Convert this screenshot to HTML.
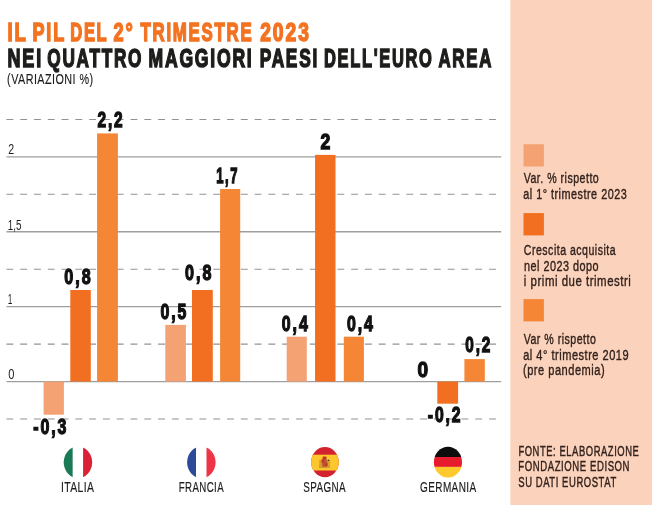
<!DOCTYPE html>
<html><head><meta charset="utf-8"><title>Il PIL del 2° trimestre 2023</title>
<style>
html,body{margin:0;padding:0;background:#fff;}
body{width:652px;height:505px;overflow:hidden;font-family:"Liberation Sans",sans-serif;}
svg{display:block;will-change:transform;}
text{font-family:"Liberation Sans",sans-serif;}
.t1{font-weight:bold;font-size:25.7px;letter-spacing:2.6px;fill:#F37321;stroke:#F37321;stroke-width:1.5px;}
.t2{font-weight:bold;font-size:25.7px;letter-spacing:2.6px;fill:#1d1d1b;stroke:#1d1d1b;stroke-width:1.5px;}
.sub{font-size:14.5px;letter-spacing:.6px;fill:#1d1d1b;stroke:#1d1d1b;stroke-width:.15px;}
.lab{font-weight:bold;font-size:21.2px;letter-spacing:2.6px;fill:#111;stroke:#111;stroke-width:1.3px;}
.ax{font-size:15px;fill:#1d1d1b;}
.ct{font-size:15.2px;letter-spacing:.6px;fill:#1d1d1b;stroke:#1d1d1b;stroke-width:.2px;}
.lg{font-size:15.2px;letter-spacing:.7px;fill:#33221c;stroke:#33221c;stroke-width:.4px;}
.fn{font-size:14.9px;letter-spacing:.9px;fill:#33221c;stroke:#33221c;stroke-width:.45px;}
</style></head><body>
<svg width="652" height="505" viewBox="0 0 652 505">
<rect x="0" y="0" width="652" height="505" fill="#fff"/>
<rect x="510.3" y="0" width="142" height="505" fill="#FBD3BD"/>
<line x1="6.4" x2="501" y1="119.4" y2="119.4" stroke="#929292" stroke-width="1.05" stroke-dasharray="6.9 6.89"/>
<line x1="6.5" x2="501.2" y1="156.85" y2="156.85" stroke="#9e9e9e" stroke-width="1.3"/>
<line x1="6.4" x2="501" y1="194.3" y2="194.3" stroke="#929292" stroke-width="1.05" stroke-dasharray="6.9 6.89"/>
<line x1="6.5" x2="501.2" y1="231.75" y2="231.75" stroke="#9e9e9e" stroke-width="1.3"/>
<line x1="6.4" x2="501" y1="269.2" y2="269.2" stroke="#929292" stroke-width="1.05" stroke-dasharray="6.9 6.89"/>
<line x1="6.5" x2="501.2" y1="306.65" y2="306.65" stroke="#9e9e9e" stroke-width="1.3"/>
<line x1="6.4" x2="501" y1="344.1" y2="344.1" stroke="#929292" stroke-width="1.05" stroke-dasharray="6.9 6.89"/>
<line x1="6.5" x2="501.2" y1="381.55" y2="381.55" stroke="#9e9e9e" stroke-width="1.3"/>
<line x1="6.4" x2="501" y1="419.0" y2="419.0" stroke="#929292" stroke-width="1.05" stroke-dasharray="6.9 6.89"/>
<rect x="43.6" y="381.55" width="20.3" height="33.15" fill="#F4A273"/>
<rect x="70.3" y="290" width="20.5" height="91.55" fill="#F26F21"/>
<rect x="97.1" y="133.4" width="20.8" height="248.15" fill="#F58635"/>
<rect x="165.3" y="324.9" width="20.6" height="56.65" fill="#F4A273"/>
<rect x="192" y="290" width="20.8" height="91.55" fill="#F26F21"/>
<rect x="220.1" y="189" width="20.1" height="192.55" fill="#F58635"/>
<rect x="286.7" y="336.7" width="20.1" height="44.85" fill="#F4A273"/>
<rect x="315.05" y="154.9" width="20.45" height="226.65" fill="#F26F21"/>
<rect x="343.8" y="336.7" width="20.1" height="44.85" fill="#F58635"/>
<rect x="437.3" y="381.55" width="20.8" height="22.15" fill="#F26F21"/>
<rect x="464.4" y="359.1" width="20.4" height="22.45" fill="#F58635"/>
<rect x="523.5" y="144.2" width="20.4" height="22.3" fill="#F4A273"/>
<rect x="523.5" y="213.1" width="20.4" height="22.3" fill="#F26F21"/>
<rect x="523.5" y="299.1" width="20.4" height="22.3" fill="#F58635"/>
<text class="lab" x="33.15" y="433.65" textLength="35.29" lengthAdjust="spacingAndGlyphs">-0,3</text>
<text class="lab" x="64.26" y="284.25" textLength="28.34" lengthAdjust="spacingAndGlyphs">0,8</text>
<text class="lab" x="97.43" y="127.25" textLength="27.15" lengthAdjust="spacingAndGlyphs">2,2</text>
<text class="lab" x="160.44" y="318.75" textLength="27.92" lengthAdjust="spacingAndGlyphs">0,5</text>
<text class="lab" x="185.04" y="279.95" textLength="28.36" lengthAdjust="spacingAndGlyphs">0,8</text>
<text class="lab" x="216.15" y="182.95" textLength="22.94" lengthAdjust="spacingAndGlyphs">1,7</text>
<text class="lab" x="281.74" y="331.05" textLength="27.95" lengthAdjust="spacingAndGlyphs">0,4</text>
<text class="lab" x="320.56" y="149.05" textLength="11.97" lengthAdjust="spacingAndGlyphs">2</text>
<text class="lab" x="346.95" y="331.05" textLength="27.99" lengthAdjust="spacingAndGlyphs">0,4</text>
<text class="lab" x="417.40" y="376.85" textLength="12.94" lengthAdjust="spacingAndGlyphs">0</text>
<text class="lab" x="427.74" y="422.45" textLength="34.78" lengthAdjust="spacingAndGlyphs">-0,2</text>
<text class="lab" x="465.27" y="352.15" textLength="26.98" lengthAdjust="spacingAndGlyphs">0,2</text>
<text class="ax" x="8.26" y="153.70" textLength="5.91" lengthAdjust="spacingAndGlyphs">2</text>
<text class="ax" x="7.67" y="229.50" textLength="13.72" lengthAdjust="spacingAndGlyphs">1,5</text>
<text class="ax" x="7.70" y="303.90" textLength="4.60" lengthAdjust="spacingAndGlyphs">1</text>
<text class="ax" x="8.28" y="378.90" textLength="6.17" lengthAdjust="spacingAndGlyphs">0</text>
<text class="ct" x="60.92" y="491.50" textLength="33.56" lengthAdjust="spacingAndGlyphs">ITALIA</text>
<text class="ct" x="178.81" y="491.60" textLength="45.22" lengthAdjust="spacingAndGlyphs">FRANCIA</text>
<text class="ct" x="303.23" y="491.60" textLength="42.75" lengthAdjust="spacingAndGlyphs">SPAGNA</text>
<text class="ct" x="420.07" y="491.60" textLength="56.45" lengthAdjust="spacingAndGlyphs">GERMANIA</text>
<text class="lg" x="523.63" y="183.15" textLength="75.64" lengthAdjust="spacingAndGlyphs">Var. % rispetto</text>
<text class="lg" x="523.20" y="198.50" textLength="104.04" lengthAdjust="spacingAndGlyphs">al 1° trimestre 2023</text>
<text class="lg" x="523.87" y="255.45" textLength="92.17" lengthAdjust="spacingAndGlyphs">Crescita acquisita</text>
<text class="lg" x="523.91" y="270.80" textLength="75.22" lengthAdjust="spacingAndGlyphs">nel 2023 dopo</text>
<text class="lg" x="523.87" y="286.10" textLength="107.49" lengthAdjust="spacingAndGlyphs">i primi due trimestri</text>
<text class="lg" x="523.63" y="344.40" textLength="72.77" lengthAdjust="spacingAndGlyphs">Var % rispetto</text>
<text class="lg" x="523.20" y="359.65" textLength="105.92" lengthAdjust="spacingAndGlyphs">al 4° trimestre 2019</text>
<text class="lg" x="522.99" y="374.70" textLength="82.10" lengthAdjust="spacingAndGlyphs">(pre pandemia)</text>
<text class="fn" x="518.39" y="455.73" textLength="121.05" lengthAdjust="spacingAndGlyphs">FONTE: ELABORAZIONE</text>
<text class="fn" x="518.36" y="471.08" textLength="111.70" lengthAdjust="spacingAndGlyphs">FONDAZIONE EDISON</text>
<text class="fn" x="518.25" y="486.78" textLength="98.56" lengthAdjust="spacingAndGlyphs">SU DATI EUROSTAT</text>
<text class="t1" x="7.47" y="40.90" textLength="20.20" lengthAdjust="spacingAndGlyphs">IL</text>
<text class="t1" x="32.46" y="40.90" textLength="33.52" lengthAdjust="spacingAndGlyphs">PIL</text>
<text class="t1" x="70.28" y="40.90" textLength="38.12" lengthAdjust="spacingAndGlyphs">DEL</text>
<text class="t1" x="113.60" y="40.90" textLength="21.06" lengthAdjust="spacingAndGlyphs">2°</text>
<text class="t1" x="140.55" y="40.90" textLength="112.80" lengthAdjust="spacingAndGlyphs">TRIMESTRE</text>
<text class="t1" x="260.18" y="40.90" textLength="50.69" lengthAdjust="spacingAndGlyphs">2023</text>
<text class="t2" x="7.47" y="67.25" textLength="35.52" lengthAdjust="spacingAndGlyphs">NEI</text>
<text class="t2" x="47.29" y="67.25" textLength="95.91" lengthAdjust="spacingAndGlyphs">QUATTRO</text>
<text class="t2" x="148.49" y="67.25" textLength="105.05" lengthAdjust="spacingAndGlyphs">MAGGIORI</text>
<text class="t2" x="259.65" y="67.25" textLength="59.32" lengthAdjust="spacingAndGlyphs">PAESI</text>
<text class="t2" x="323.96" y="67.25" textLength="109.54" lengthAdjust="spacingAndGlyphs">DELL'EURO</text>
<text class="t2" x="438.49" y="67.25" textLength="54.55" lengthAdjust="spacingAndGlyphs">AREA</text>
<text class="sub" x="7.09" y="83.83" textLength="86.49" lengthAdjust="spacingAndGlyphs">(VARIAZIONI %)</text>
<clipPath id="fi"><ellipse cx="77.95" cy="462.35" rx="14.25" ry="15.85"/></clipPath><g clip-path="url(#fi)"><rect x="62.7" y="445.5" width="10.10" height="34" fill="#1b7a56"/><rect x="72.8" y="445.5" width="10.3" height="34" fill="#fff"/><rect x="83.1" y="445.5" width="10.10" height="34" fill="#db2136"/></g>
<clipPath id="ff"><ellipse cx="201.35" cy="462.35" rx="14.25" ry="15.85"/></clipPath><g clip-path="url(#ff)"><rect x="186.1" y="445.5" width="9.90" height="34" fill="#2b4a98"/><rect x="196" y="445.5" width="10.5" height="34" fill="#fff"/><rect x="206.5" y="445.5" width="10.10" height="34" fill="#ee3546"/></g>
<clipPath id="fs"><ellipse cx="324.95" cy="462.10" rx="13.85" ry="15.10"/></clipPath><g clip-path="url(#fs)"><rect x="310.1" y="446" width="30" height="33" fill="#d3222e"/><rect x="310.1" y="454.7" width="30" height="15.8" fill="#fcc72c"/><rect x="322.6" y="456.6" width="4" height="2.6" rx=".8" fill="#b8382a"/><rect x="321.6" y="459" width="6" height="8.2" rx="1.6" fill="#b9612c"/><rect x="321.6" y="459" width="3" height="4" fill="#c23b2c"/><rect x="324.6" y="463" width="3" height="3.6" rx=".8" fill="#c23b2c"/><rect x="319.3" y="460" width="1.6" height="7" fill="#d9962e"/><rect x="328.3" y="460" width="1.6" height="7" fill="#d9962e"/><rect x="319" y="466.6" width="11" height="1.1" fill="#c48a2e"/><circle cx="328.6" cy="460.2" r=".7" fill="#3a2a1a"/></g>
<clipPath id="fg"><ellipse cx="447.95" cy="462.15" rx="14.05" ry="15.45"/></clipPath><g clip-path="url(#fg)"><rect x="432.9" y="445.7" width="30" height="11.30" fill="#0d0d0d"/><rect x="432.9" y="457" width="30" height="9.9" fill="#e61b2c"/><rect x="432.9" y="466.9" width="30" height="12" fill="#fdc92b"/></g>
</svg></body></html>
